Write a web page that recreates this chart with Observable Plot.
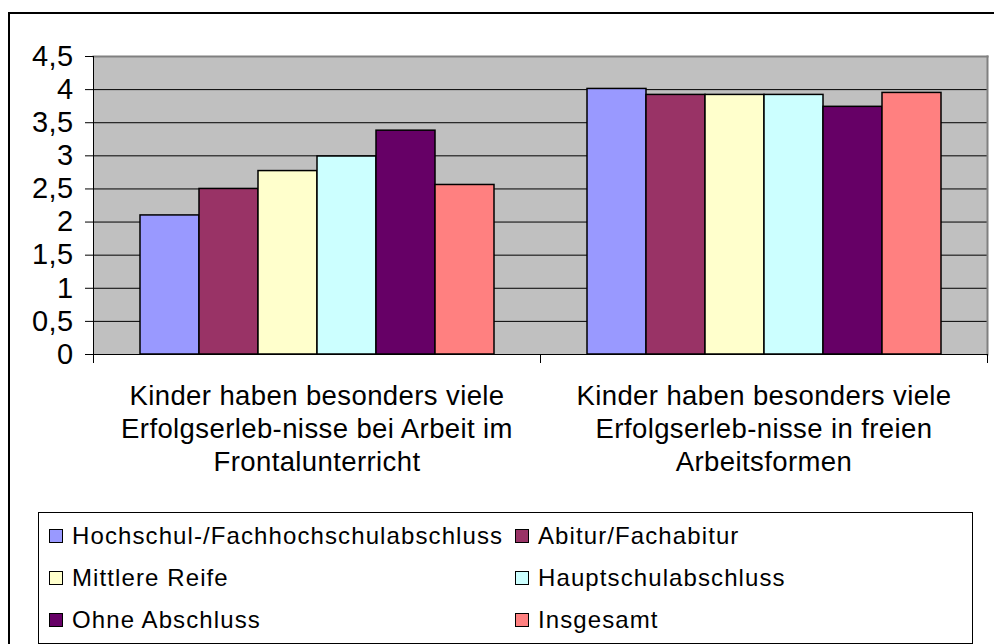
<!DOCTYPE html>
<html>
<head>
<meta charset="utf-8">
<script src="https://cdn.jsdelivr.net/npm/d3@7"></script>
<script src="https://cdn.jsdelivr.net/npm/@observablehq/plot@0.6"></script>
<style>
  html, body { margin: 0; padding: 0; background: #fff; overflow: hidden; }
  body { width: 994px; height: 644px; position: relative; font-family: "Liberation Sans", Arial, sans-serif; }
  #lineTop { position: absolute; left: 8px; top: 12px; width: 986px; height: 2px; background: #000; }
  #lineLeft { position: absolute; left: 8px; top: 12px; width: 2px; height: 632px; background: #000; }
  #edge { position: absolute; left: 989px; top: 14px; width: 5px; height: 630px; background: #fff; z-index: 10; }
  #chart { position: absolute; left: 0; top: 0; width: 994px; height: 500px; overflow: hidden; }
  #legend { position: absolute; left: 38px; top: 512px; width: 935px; height: 132px; border: 1px solid #000; box-sizing: border-box;
            background: #fff; display: grid; grid-template-columns: 466px 1fr; grid-auto-rows: 42px; padding-top: 2px; padding-left: 10px;
            font-size: 24px; letter-spacing: 1.1px; color: #000; }
  .item { display: flex; align-items: center; white-space: nowrap; }
  .sw { width: 12px; height: 12px; border: 1px solid #000; margin-right: 9px; flex: none; }
</style>
</head>
<body>
<div id="lineTop"></div>
<div id="lineLeft"></div>
<div id="chart"></div>
<div id="legend"></div>
<div id="edge"></div>
<script>
const categories = [
  "Kinder haben besonders viele\nErfolgserleb-nisse bei Arbeit im\nFrontalunterricht",
  "Kinder haben besonders viele\nErfolgserleb-nisse in freien\nArbeitsformen"
];
const series = [
  "Hochschul-/Fachhochschulabschluss",
  "Abitur/Fachabitur",
  "Mittlere Reife",
  "Hauptschulabschluss",
  "Ohne Abschluss",
  "Insgesamt"
];
const valuesFrontal = [2.10, 2.50, 2.77, 2.99, 3.38, 2.56];
const valuesFrei = [4.01, 3.92, 3.92, 3.92, 3.74, 3.95];
const colors = ["#9999FF", "#993366", "#FFFFCC", "#CCFFFF", "#660066", "#FF8080"];
const yTicks = [0, 0.5, 1, 1.5, 2, 2.5, 3, 3.5, 4, 4.5];

const data = [];
series.forEach((s, i) => {
  data.push({cat: categories[0], series: s, value: valuesFrontal[i]});
  data.push({cat: categories[1], series: s, value: valuesFrei[i]});
});

const fmt = d => String(d).replace(".", ",");

const chart = Plot.plot({
  width: 994,
  height: 500,
  marginLeft: 93,
  marginRight: 7,
  marginTop: 56,
  marginBottom: 146,
  style: {fontFamily: "'Liberation Sans', Arial, sans-serif", color: "#000", background: "transparent", letterSpacing: "0.4px"},
  fx: {domain: categories, padding: 0, axis: null},
  x: {domain: series, paddingInner: 0, paddingOuter: 0.75, axis: null},
  y: {domain: [0, 4.5], axis: null},
  color: {domain: series, range: colors},
  marks: [
    Plot.frame({facet: "super", fill: "#C0C0C0", stroke: null}),
    Plot.ruleY(yTicks.filter(d => d > 0 && d < 4.5), {stroke: "#000", strokeWidth: 1}),
    Plot.frame({facet: "super", anchor: "top", stroke: "#808080", strokeWidth: 2}),
    Plot.frame({facet: "super", anchor: "right", stroke: "#808080", strokeWidth: 2}),
    Plot.barY(data, {fx: "cat", x: "series", y: "value", fill: "series", stroke: "#000", strokeWidth: 1.5, inset: 0}),
    Plot.frame({facet: "super", anchor: "left", stroke: "#000", strokeWidth: 1}),
    Plot.ruleY([0], {stroke: "#000", strokeWidth: 1}),
    Plot.frame({anchor: "left", stroke: "#000", strokeWidth: 1, insetTop: 298, insetBottom: -8}),
    Plot.frame({anchor: "right", stroke: "#000", strokeWidth: 1, insetTop: 298, insetBottom: -8}),
    Plot.axisY({ticks: yTicks, tickFormat: fmt, tickSize: 8, tickPadding: 12, fontSize: 29, stroke: "#000", label: null}),
    Plot.axisFx({anchor: "bottom", tickSize: 0, tickPadding: 27, fontSize: 27.5, lineHeight: 1.2, label: null, tickFormat: d => d})
  ]
});
document.getElementById("chart").appendChild(chart);

const legend = document.getElementById("legend");
series.forEach((s, i) => {
  const item = document.createElement("div");
  item.className = "item";
  const sw = document.createElement("span");
  sw.className = "sw";
  sw.style.background = colors[i];
  const t = document.createElement("span");
  t.textContent = s;
  item.appendChild(sw);
  item.appendChild(t);
  legend.appendChild(item);
});
</script>
</body>
</html>
